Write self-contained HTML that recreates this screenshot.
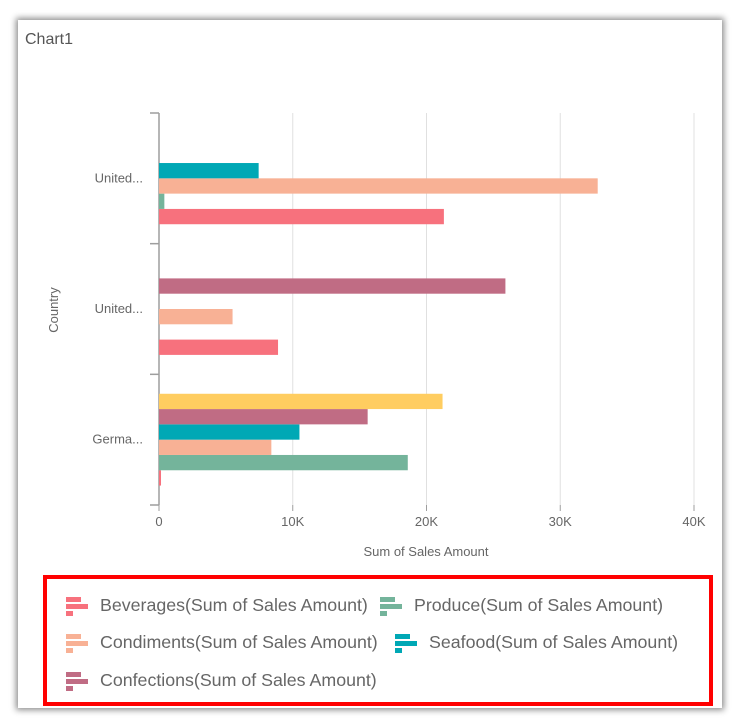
<!DOCTYPE html>
<html><head><meta charset="utf-8"><style>
body{margin:0;background:#fff;width:742px;height:728px;overflow:hidden;font-family:"Liberation Sans",sans-serif;}
#card{position:absolute;left:18px;top:20px;width:704px;height:688px;background:#fff;box-shadow:0 0 6px 2px rgba(0,0,0,0.45);}
#title{position:absolute;left:25px;top:31px;font-size:16px;color:#555;}
#legend{position:absolute;left:43px;top:575px;width:662px;height:123px;border:4px solid #f00;}
.li{position:absolute;font-size:17.8px;color:#666;white-space:nowrap;}
</style></head><body>
<div id="card"></div>
<div id="title">Chart1</div>
<svg id="chart" width="742" height="728" style="position:absolute;left:0;top:0"></svg>
<div id="legend"></div>
<script>
const categories=["Germa...","United...","United..."];
const seriesNames=["Beverages","Produce","Condiments","Seafood","Confections","Dairy"];
const seriesColors=["#f7717d","#74b49b","#f8b195","#00a8b5","#c06c84","#ffcd60"];
const beverages=[0.15,8.9,21.3];
const produce=[18.6,0,0.4];
const condiments=[8.4,5.5,32.8];
const seafood=[10.5,0,7.45];
const confections=[15.6,25.9,0];
const dairy=[21.2,0,0];
const xTicks=[0,10,20,30,40];
const xTickLabels=["0","10K","20K","30K","40K"];
const series=[beverages,produce,condiments,seafood,confections,dairy];
const NS="http://www.w3.org/2000/svg";
const svg=document.getElementById('chart');
const X0=159,X1=694,Y0=113,Y1=505,XMAX=40;
const xs=v=>X0+v/XMAX*(X1-X0);
const band=(Y1-Y0)/categories.length;
function mk(t,a){const e=document.createElementNS(NS,t);for(const k in a)e.setAttribute(k,a[k]);svg.appendChild(e);return e;}
xTicks.forEach((t,i)=>{
 const g=mk('line',{x1:xs(t),x2:xs(t),y1:Y0,y2:Y1,stroke:'#e0e0e0','stroke-width':1});
 
 
 const tk=mk('line',{x1:xs(t),x2:xs(t),y1:Y1,y2:Y1+6,stroke:'#9e9e9e'});
 
 
 const tx=mk('text',{x:xs(t),y:526,'text-anchor':'middle','font-size':13,fill:'#666'});
 tx.textContent=xTickLabels[i];
 
 
});
const ax=mk('line',{x1:X0,x2:X0,y1:Y0,y2:Y1,stroke:'#9e9e9e','stroke-width':1.5});


for(let i=0;i<=categories.length;i++){
 const y=Y0+band*i;
 const t=mk('line',{x1:X0-9,x2:X0,y1:y,y2:y,stroke:'#9e9e9e','stroke-width':1.5});
 
 
}
const bh=15.3;
categories.forEach((c,ci)=>{
 const bottom=Y1-band*ci;
 const center=bottom-band/2;
 const start=center+bh*series.length/2;
 const lab=mk('text',{x:143,y:center+4,'text-anchor':'end','font-size':13,fill:'#666'});
 lab.textContent=c;
 
 
 series.forEach((s,si)=>{
  const v=s[ci]; if(!v) return;
  const r=mk('rect',{x:X0,y:start-bh*(si+1),width:xs(v)-X0,height:bh,fill:seriesColors[si]});
  
  
 });
});
const yt=mk('text',{x:58,y:310,'text-anchor':'middle','font-size':13,fill:'#666',transform:'rotate(-90 58 310)'});
yt.textContent='Country';


const xt=mk('text',{x:426,y:556,'text-anchor':'middle','font-size':13,fill:'#666'});
xt.textContent='Sum of Sales Amount';


const leg=document.getElementById('legend');
const items=[[0,66,606],[1,380,606],[2,66,643],[3,395,643],[4,66,681]];
items.forEach(([si,x,y])=>{
 const d=document.createElement('div');
 d.className='li';
 d.style.left=(x-47)+'px';d.style.top=(y-579-11)+'px';
 const col=seriesColors[si];
 d.innerHTML='<svg width="26" height="20" style="vertical-align:middle;margin-right:8px"><rect x="0" y="1" width="15" height="5" fill="'+col+'"/><rect x="0" y="8" width="22" height="5" fill="'+col+'"/><rect x="0" y="15" width="7" height="5" fill="'+col+'"/></svg>'+seriesNames[si]+'(Sum of Sales Amount)';
 if(si===3){d.style.width='283px';d.style.overflow='hidden';}
 
 
 leg.appendChild(d);
});
</script>
</body></html>
